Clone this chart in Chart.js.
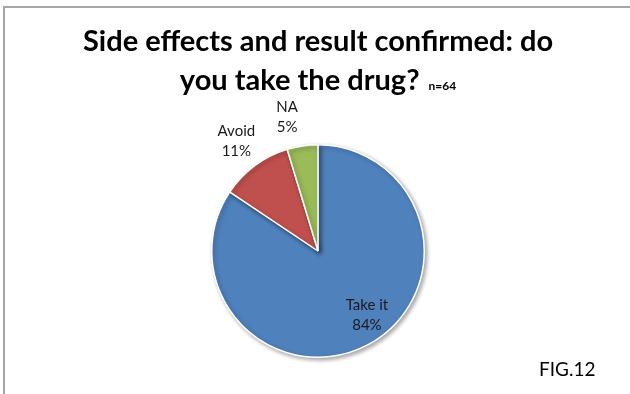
<!DOCTYPE html>
<html>
<head>
<meta charset="utf-8">
<script src="https://cdn.jsdelivr.net/npm/chart.js@4/dist/chart.umd.min.js"></script>
<style>
  html, body { margin: 0; padding: 0; background: #fff; }
  #wrap { position: relative; width: 630px; height: 394px; }
</style>
</head>
<body>
<div id="wrap"><canvas id="drugPie" width="630" height="394"></canvas></div>
<script>
"use strict";

// ========== DATA ========== //
const categories = ["Take it", "Avoid", "NA"];
const answers = [54, 7, 3]; // n=64
const percentLabels = ["84%", "11%", "5%"];
const sliceColors = ["#4F81BD", "#C0504D", "#9BBB59"];
const titleLines = ["Side effects and result confirmed: do", "you take the drug?"];
const sampleNote = "n=64";
const figLabel = "FIG.12";

const FONT = "Lato, 'Open Sans', sans-serif";

// frame + title + fig number
const decorPlugin = {
  id: "decor",
  beforeDraw(chart) {
    const ctx = chart.ctx;
    ctx.save();
    ctx.strokeStyle = "#a6a6a6";
    ctx.lineWidth = 2;
    ctx.beginPath();
    ctx.moveTo(4, 394);
    ctx.lineTo(4, 7);
    ctx.lineTo(630, 7);
    ctx.stroke();
    ctx.restore();
  },
  afterDraw(chart) {
    const ctx = chart.ctx;
    ctx.save();
    ctx.fillStyle = "#000";
    ctx.textBaseline = "alphabetic";
    ctx.textAlign = "center";
    ctx.font = "bold 29px " + FONT;
    ctx.fillText(titleLines[0], 318, 51);
    // second line with the small n=64 after it
    let w1 = ctx.measureText(titleLines[1]).width;
    ctx.font = "bold 12px " + FONT;
    let w2 = ctx.measureText(sampleNote).width;
    let gap = 9;
    let x0 = 318 - (w1 + gap + w2) / 2;
    ctx.textAlign = "left";
    ctx.font = "bold 29px " + FONT;
    ctx.fillText(titleLines[1], x0, 90);
    ctx.font = "bold 12px " + FONT;
    ctx.fillText(sampleNote, x0 + w1 + gap, 90);
    // fig label
    ctx.font = "19px " + FONT;
    ctx.textAlign = "left";
    ctx.fillText(figLabel, 539, 376);
    ctx.restore();
  }
};

// slice labels: name + percent, inside for the big slice, outside for small ones
const labelPlugin = {
  id: "sliceLabels",
  afterDatasetsDraw(chart) {
    const ctx = chart.ctx;
    const meta = chart.getDatasetMeta(0);
    ctx.save();
    ctx.fillStyle = "#1a1a1a";
    ctx.font = "15px " + FONT;
    ctx.textAlign = "center";
    ctx.textBaseline = "middle";
    meta.data.forEach((arc, i) => {
      const p = arc.getProps(["x", "y", "startAngle", "endAngle", "outerRadius"], true);
      const mid = (p.startAngle + p.endAngle) / 2;
      const dist = i === 0 ? p.outerRadius * 0.76 : p.outerRadius * 1.29;
      const ang = i === 0 ? mid - 0.16 : mid - (i === 2 ? 0.08 : 0);
      const cx = p.x + Math.cos(ang) * dist;
      const cy = p.y + Math.sin(ang) * dist;
      ctx.fillText(categories[i], cx, cy - 10);
      ctx.fillText(percentLabels[i], cx, cy + 10);
    });
    ctx.restore();
  }
};

// soft shadow under the pie
const shadowPlugin = {
  id: "pieShadow",
  beforeDatasetsDraw(chart) {
    const ctx = chart.ctx;
    ctx.save();
    ctx.shadowColor = "rgba(0,0,0,0.35)";
    ctx.shadowBlur = 4;
    ctx.shadowOffsetX = 2;
    ctx.shadowOffsetY = 2;
  },
  afterDatasetsDraw(chart) {
    chart.ctx.restore();
  }
};

let chartContainer = document.querySelector("#drugPie");
let chart = new Chart(chartContainer, {
  type: "pie",
  data: {
    labels: categories,
    datasets: [{
      data: answers,
      backgroundColor: sliceColors,
      borderColor: "#fff",
      borderWidth: 1.5
    }]
  },
  options: {
    responsive: false,
    animation: false,
    layout: { padding: { left: 211, right: 205, top: 143, bottom: 35 } },
    plugins: {
      legend: { display: false },
      tooltip: { enabled: false },
      title: { display: false }
    }
  },
  plugins: [decorPlugin, shadowPlugin, labelPlugin]
});
</script>
</body>
</html>
